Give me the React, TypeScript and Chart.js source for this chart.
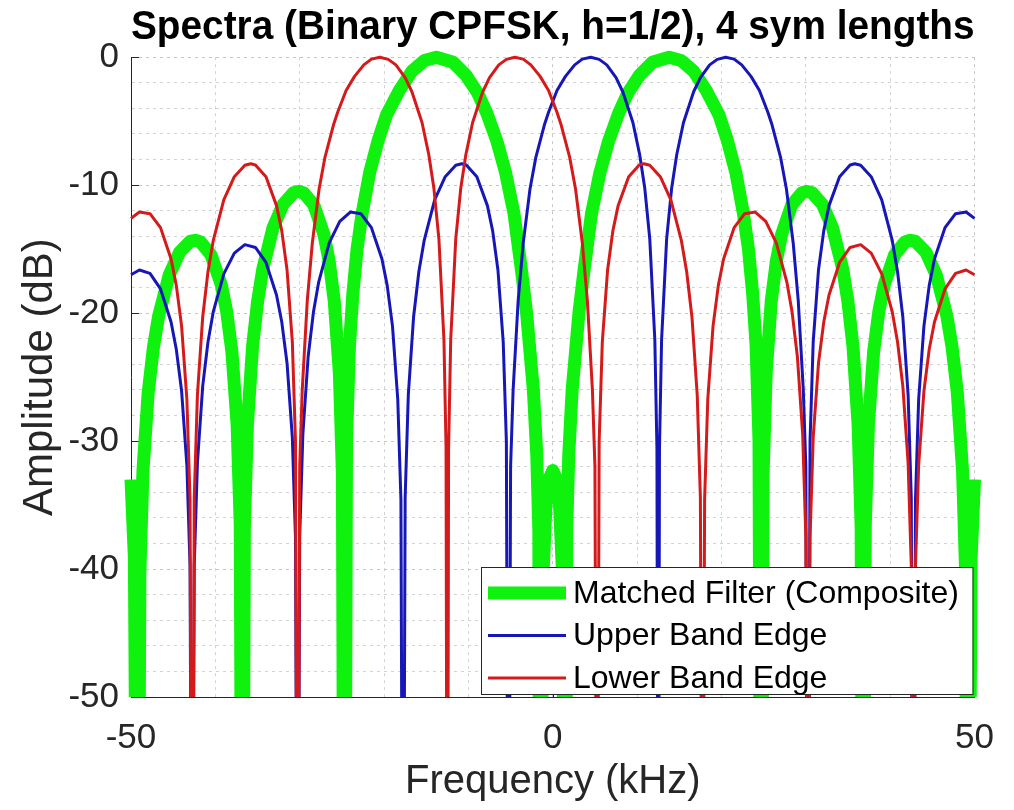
import React, { useEffect, useRef } from 'react';
import { Chart, registerables } from 'chart.js';

Chart.register(...registerables);

const FONT = "'Liberation Sans', Arial, Helvetica, sans-serif";

const titleText = 'Spectra (Binary CPFSK, h=1/2), 4 sym lengths';
const xAxisTitle = 'Frequency (kHz)';
const yAxisTitle = 'Amplitude (dB)';
const legendLabels = ['Matched Filter (Composite)', 'Upper Band Edge', 'Lower Band Edge'];
const xLabelValues = [-50, 0, 50];
const yLabelValues = [0, -10, -20, -30, -40, -50];

// Matched filter (composite) spectrum, kHz / dB
const greenFreq = [
  -50, -49.6, -49.2, -48.95, -48.58, -47.96, -47.34, -46.72, -45.48, -44.24, -43.0, -42.38, -41.76, -40.52,
  -39.28, -38.66, -38.04, -37.42, -37.05, -36.8, -36.56, -36.2, -35.59, -34.98, -34.38, -33.17, -31.96,
  -30.75, -30.15, -29.54, -28.33, -27.12, -26.52, -25.91, -25.3, -24.94, -24.7, -24.45, -24.1, -23.7, -23.2,
  -22.6, -21.7, -20.7, -19.7, -18.2, -16.7, -15.2, -13.8, -11.8, -10.3, -8.9, -7.8, -6.6, -5.6, -4.6, -3.7,
  -3.1, -2.7, -2.3, -1.9, -1.65, -1.5, -1.2, -0.8, -0.4, 0, 0.4, 0.8, 1.2, 1.5, 1.65, 1.9, 2.3, 2.7, 3.1, 3.7,
  4.6, 5.6, 6.6, 7.8, 8.9, 10.3, 11.8, 13.8, 15.2, 16.7, 18.2, 19.7, 20.7, 21.7, 22.6, 23.2, 23.7, 24.1, 24.45,
  24.7, 24.94, 25.3, 25.91, 26.52, 27.12, 28.33, 29.54, 30.15, 30.75, 31.96, 33.17, 34.38, 34.98, 35.59, 36.2,
  36.56, 36.8, 37.05, 37.42, 38.04, 38.66, 39.28, 40.52, 41.76, 42.38, 43.0, 44.24, 45.48, 46.72, 47.34, 47.96,
  48.58, 48.95, 49.2, 49.6, 50,
];
const greenDb = [
  -33, -39.1, -80, -40.4, -32.3, -26.2, -22.66, -20.22, -17.04, -15.24, -14.4, -14.31, -14.44, -15.44,
  -17.82, -19.86, -23.0, -28.71, -36.52, -80, -36.8, -28.74, -22.6, -19.04, -16.57, -13.34, -11.49,
  -10.6, -10.49, -10.59, -11.54, -13.87, -15.88, -19.0, -24.68, -32.48, -80, -30, -22.5, -18.5, -15,
  -12.2, -9.0, -6.5, -4.5, -2.6, -1.1, -0.25, 0, -0.4, -1.4, -2.8, -4.4, -6.6, -9.0, -12.2, -16.7,
  -20, -23, -26, -31, -37, -80, -41, -35, -32.9, -32.3, -32.9, -35, -41, -80, -37, -31, -26, -23, -20, -16.7,
  -12.2, -9.0, -6.6, -4.4, -2.8, -1.4, -0.4, 0, -0.25, -1.1, -2.6, -4.5, -6.5, -9.0, -12.2, -15, -18.5, -22.5, -30,
  -80, -32.48, -24.68, -19.0, -15.88, -13.87, -11.54, -10.59, -10.49, -10.6, -11.49, -13.34, -16.57, -19.04, -22.6, -28.74,
  -36.8, -80, -36.52, -28.71, -23.0, -19.86, -17.82, -15.44, -14.44, -14.31, -14.4, -15.24, -17.04, -20.22, -22.66, -26.2,
  -32.3, -40.4, -80, -39.1, -33,
];

// Upper band edge spectrum
const blueFreq = [
  -50, -49, -47.75, -46.5, -45.25, -44.625, -44, -43.375, -43, -42.75, -42.5, -42.125, -41.5, -40.875, -40.25,
  -39, -37.75, -36.5, -35.25, -34, -32.75, -32.125, -31.5, -30.875, -30.5, -30.25, -30, -29.625, -29, -28.375,
  -27.75, -26.5, -25.25, -24, -22.75, -21.5, -20.25, -19.625, -19, -18.375, -18, -17.75, -17.5, -17.125, -16.5,
  -15.875, -15.25, -14, -12.75, -11.5, -10.8, -10.25, -9, -7.75, -7.125, -6.5, -5.875, -5.5, -5.25, -5, -4.7,
  -4.1, -3.5, -2.7, -2, -1, -0.5, 0.5, 1.5, 2.6, 3.5, 4.5, 5.5, 6.4, 7.5, 8.3, 9.5, 10.3, 10.9, 11.5, 12.1, 12.35,
  12.5, 12.65, 12.9, 13.5, 14.1, 14.7, 15.5, 16.7, 17.5, 18.6, 19.5, 20.5, 21.5, 22.4, 23.5, 24.5, 25.5, 26, 27,
  27.7, 28.5, 29.1, 29.7, 30, 30.25, 30.5, 30.875, 31.5, 32.125, 32.75, 34, 35.25, 35.8, 36.5, 37.75, 39, 40.25,
  40.875, 41.5, 42.125, 42.5, 42.75, 43, 43.375, 44, 44.625, 45.25, 46.5, 47.75, 49, 50,
];
const blueDb = [
  -17.0, -16.63, -16.89, -18.11, -20.7, -22.85, -26.09, -31.9, -39.78, -80, -39.7, -31.71, -25.7, -22.26, -19.91,
  -16.93, -15.31, -14.65, -14.87, -16.04, -18.58, -20.7, -23.92, -29.71, -37.56, -80, -37.46, -29.45, -23.41, -19.94,
  -17.57, -14.51, -12.83, -12.1, -12.23, -13.32, -15.77, -17.85, -21.02, -26.75, -34.58, -80, -34.43, -26.39, -20.3,
  -16.77, -14.34, -11.15, -9.34, -8.45, -8.33, -8.43, -9.34, -11.6, -13.57, -16.63, -22.24, -30.0, -80, -32, -26,
  -19, -14.5, -10.3, -7.8, -5.3, -4.3, -2.6, -1.5, -0.6, -0.15, 0, -0.17, -0.6, -1.6, -2.7, -5.1, -7.6, -10.2, -14.2, -22.1, -30.6,
  -80, -30.6, -22.1, -14.2, -10.2, -7.6, -5.1, -2.7, -1.6, -0.6, -0.17, 0, -0.15, -0.6, -1.5, -2.6, -4.3, -5.3, -7.8,
  -10.3, -14.5, -19, -26, -32, -80, -30.0, -22.24, -16.63, -13.57, -11.6, -9.34, -8.43, -8.33, -8.45, -9.34, -11.15, -14.34,
  -16.77, -20.3, -26.39, -34.43, -80, -34.58, -26.75, -21.02, -17.85, -15.77, -13.32, -12.23, -12.1, -12.6,
];

// Lower band edge spectrum
const redFreq = [
  -50, -49, -47.75, -46.5, -45.25, -44.625, -44, -43.375, -43, -42.75, -42.5, -42.125, -41.5, -40.875, -40.25,
  -39, -37.75, -36.5, -35.8, -35.25, -34, -32.75, -32.125, -31.5, -30.875, -30.5, -30.25, -30, -29.7, -29.1, -28.5,
  -27.7, -27, -26, -25.5, -24.5, -23.5, -22.4, -21.5, -20.5, -19.5, -18.6, -17.5, -16.7, -15.5, -14.7, -14.1, -13.5,
  -12.9, -12.65, -12.5, -12.35, -12.1, -11.5, -10.9, -10.3, -9.5, -8.3, -7.5, -6.4, -5.5, -4.5, -3.5, -2.6, -1.5,
  -0.5, 0.5, 1, 2, 2.7, 3.5, 4.1, 4.7, 5, 5.25, 5.5, 5.875, 6.5, 7.125, 7.75, 9, 10.25, 10.8, 11.5, 12.75, 14,
  15.25, 15.875, 16.5, 17.125, 17.5, 17.75, 18, 18.375, 19, 19.625, 20.25, 21.5, 22.75, 24, 25.25, 26.5, 27.75,
  28.375, 29, 29.625, 30, 30.25, 30.5, 30.875, 31.5, 32.125, 32.75, 34, 35.25, 36.5, 37.75, 39, 40.25, 40.875,
  41.5, 42.125, 42.5, 42.75, 43, 43.375, 44, 44.625, 45.25, 46.5, 47.75, 49, 50,
];
const redDb = [
  -12.6, -12.1, -12.23, -13.32, -15.77, -17.85, -21.02, -26.75, -34.58, -80, -34.43, -26.39, -20.3, -16.77, -14.34,
  -11.15, -9.34, -8.45, -8.33, -8.43, -9.34, -11.6, -13.57, -16.63, -22.24, -30.0, -80, -32, -26, -19, -14.5,
  -10.3, -7.8, -5.3, -4.3, -2.6, -1.5, -0.6, -0.15, 0, -0.17, -0.6, -1.6, -2.7, -5.1, -7.6, -10.2, -14.2,
  -22.1, -30.6, -80, -30.6, -22.1, -14.2, -10.2, -7.6, -5.1, -2.7, -1.6, -0.6, -0.17, 0, -0.15, -0.6, -1.5,
  -2.6, -4.3, -5.3, -7.8, -10.3, -14.5, -19, -26, -32, -80, -30.0, -22.24, -16.63, -13.57, -11.6, -9.34, -8.43, -8.33, -8.45, -9.34, -11.15,
  -14.34, -16.77, -20.3, -26.39, -34.43, -80, -34.58, -26.75, -21.02, -17.85, -15.77, -13.32, -12.23, -12.1, -12.83, -14.51, -17.57,
  -19.94, -23.41, -29.45, -37.46, -80, -37.56, -29.71, -23.92, -20.7, -18.58, -16.04, -14.87, -14.65, -15.31, -16.93, -19.91, -22.26,
  -25.7, -31.71, -39.7, -80, -39.78, -31.9, -26.09, -22.85, -20.7, -18.11, -16.89, -16.63, -17.0,
];

const GREEN = '#0ef20e';
const BLUE = '#1717b8';
const RED = '#d41a1a';
const AXIS = '#262626';

const toPoints = (xs: number[], ys: number[]) => xs.map((x, i) => ({ x, y: ys[i] }));

const legendPlugin = {
  id: 'matlabLegend',
  afterDatasetsDraw(chart: any) {
    const { ctx, chartArea } = chart;
    ctx.save();
    ctx.font = `32px ${FONT}`;
    const textW = Math.max(...legendLabels.map((l) => ctx.measureText(l).width));
    const lineLen = 78;
    const padL = 7;
    const gap = 7;
    const padR = 14;
    const rowH = 42.5;
    const boxW = padL + lineLen + gap + textW + padR;
    const boxH = 127;
    const right = chartArea.right - 2;
    const bottom = chartArea.bottom - 3;
    const left = Math.round(right - boxW);
    const top = Math.round(bottom - boxH);
    ctx.fillStyle = '#ffffff';
    ctx.fillRect(left, top, right - left, bottom - top);
    ctx.strokeStyle = AXIS;
    ctx.lineWidth = 1;
    ctx.strokeRect(left + 0.5, top + 0.5, right - left, bottom - top);
    const colors = [GREEN, BLUE, RED];
    const widths = [13, 3, 3];
    legendLabels.forEach((lab, i) => {
      const y = top + 26 + i * rowH;
      ctx.beginPath();
      ctx.strokeStyle = colors[i];
      ctx.lineWidth = widths[i];
      ctx.lineCap = 'butt';
      ctx.moveTo(left + padL, y);
      ctx.lineTo(left + padL + lineLen, y);
      ctx.stroke();
      ctx.fillStyle = '#000000';
      ctx.textAlign = 'left';
      ctx.textBaseline = 'middle';
      ctx.fillText(lab, left + padL + lineLen + gap, y + 1);
    });
    ctx.restore();
  },
};

const innerTicksPlugin = {
  id: 'innerTicks',
  beforeDatasetsDraw(chart: any) {
    const { ctx, chartArea, scales } = chart;
    ctx.save();
    ctx.strokeStyle = AXIS;
    ctx.lineWidth = 1;
    ctx.beginPath();
    yLabelValues.forEach((v) => {
      const y = Math.round(scales.y.getPixelForValue(v)) + 0.5;
      ctx.moveTo(chartArea.left, y);
      ctx.lineTo(chartArea.left + 8, y);
    });
    xLabelValues.forEach((v) => {
      const x = Math.round(scales.x.getPixelForValue(v)) + 0.5;
      ctx.moveTo(x, chartArea.bottom);
      ctx.lineTo(x, chartArea.bottom - 8);
    });
    ctx.stroke();
    ctx.restore();
  },
};

export default function App() {
  const canvasRef = useRef<HTMLCanvasElement | null>(null);

  useEffect(() => {
    if (!canvasRef.current) return;
    Chart.defaults.font.family = FONT;
    const clip = { left: 8, right: 8, top: 8, bottom: 0 };
    const chart = new Chart(canvasRef.current, {
      type: 'line',
      data: {
        datasets: [
          {
            label: legendLabels[0],
            data: toPoints(greenFreq, greenDb),
            borderColor: GREEN,
            backgroundColor: GREEN,
            borderWidth: 13,
            pointRadius: 0,
            tension: 0,
            borderJoinStyle: 'round',
            clip,
            order: 3,
          },
          {
            label: legendLabels[1],
            data: toPoints(blueFreq, blueDb),
            borderColor: BLUE,
            backgroundColor: BLUE,
            borderWidth: 3,
            pointRadius: 0,
            tension: 0,
            borderJoinStyle: 'round',
            clip,
            order: 2,
          },
          {
            label: legendLabels[2],
            data: toPoints(redFreq, redDb),
            borderColor: RED,
            backgroundColor: RED,
            borderWidth: 3,
            pointRadius: 0,
            tension: 0,
            borderJoinStyle: 'round',
            clip,
            order: 1,
          },
        ],
      } as any,
      options: {
        animation: false,
        responsive: false,
        devicePixelRatio: 1,
        events: [],
        layout: { padding: { left: 0, right: 37, top: 0, bottom: 0 } },
        plugins: {
          legend: { display: false },
          tooltip: { enabled: false },
          title: {
            display: true,
            text: titleText,
            fullSize: false,
            color: '#000000',
            font: { size: 41, weight: 'bold', family: FONT },
            padding: { top: 3, bottom: 5 },
          },
        },
        scales: {
          x: {
            type: 'linear',
            min: -50,
            max: 50,
            afterFit: (scale: any) => {
              scale.height = 113;
            },
            ticks: {
              stepSize: 10,
              autoSkip: false,
              maxRotation: 0,
              minRotation: 0,
              padding: 20,
              color: AXIS,
              font: { size: 35, family: FONT },
              callback: (v: any) => (xLabelValues.includes(Number(v)) ? String(v) : ''),
            },
            grid: {
              drawTicks: false,
              color: (c: any) => (c.tick && c.tick.value % 50 === 0 ? '#c6c6c6' : '#d2d2d2'),
              lineWidth: 1,
            },
            border: { display: true, color: AXIS, width: 1, dash: [3, 4] },
            title: {
              display: true,
              text: xAxisTitle,
              color: AXIS,
              font: { size: 40, family: FONT },
              padding: { top: 0, bottom: 4 },
            },
          },
          y: {
            type: 'linear',
            min: -50,
            max: 0,
            afterFit: (scale: any) => {
              scale.width = 131;
            },
            ticks: {
              stepSize: 2,
              autoSkip: false,
              padding: 12,
              color: AXIS,
              font: { size: 35, family: FONT },
              callback: (v: any) => (yLabelValues.includes(Number(v)) ? String(v) : ''),
            },
            grid: {
              drawTicks: false,
              color: (c: any) => (c.tick && c.tick.value % 10 === 0 ? '#c6c6c6' : '#d2d2d2'),
              lineWidth: 1,
            },
            border: { display: true, color: AXIS, width: 1, dash: [3, 4] },
            title: {
              display: true,
              text: yAxisTitle,
              color: AXIS,
              font: { size: 42, family: FONT },
              padding: { top: 15, bottom: 0 },
            },
          },
        },
      } as any,
      plugins: [innerTicksPlugin, legendPlugin],
    });
    return () => chart.destroy();
  }, []);

  return (
    <div style={{ position: 'fixed', left: 0, top: 0, width: 1014, height: 810, background: '#ffffff' }}>
      <canvas ref={canvasRef} width={1014} height={810} style={{ display: 'block' }} />
    </div>
  );
}
